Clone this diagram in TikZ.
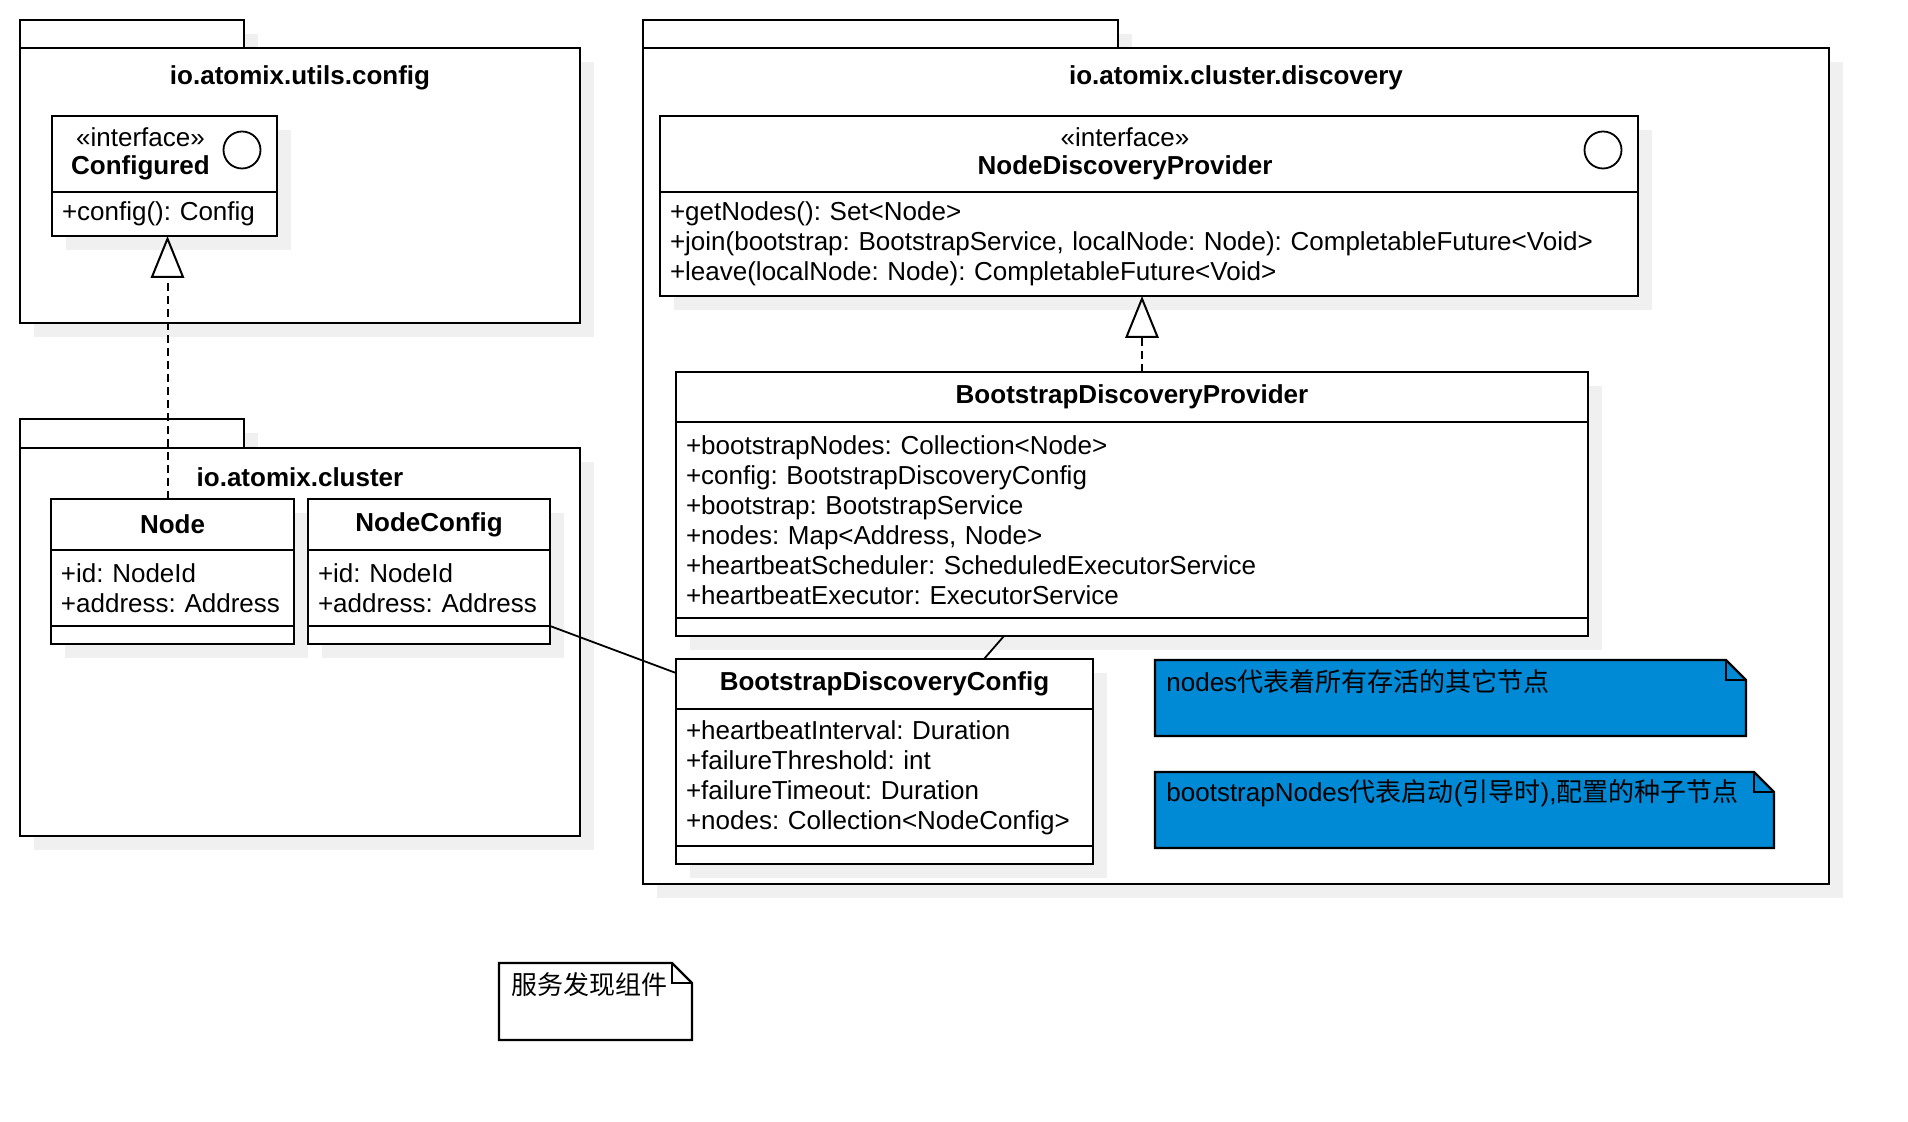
\documentclass[tikz,border=0pt]{standalone}
\usepackage{fontspec}
\setmainfont{Liberation Sans}
\newfontfamily\cjk{Noto Sans CJK SC}
\usepackage{tikz}
\usetikzlibrary{calc}
\usetikzlibrary{positioning}
\usetikzlibrary{shadows}
\usetikzlibrary{arrows.meta}

\definecolor{shadowgray}{RGB}{240,240,240}
\definecolor{noteblue}{RGB}{0,137,212}

\frenchspacing
\hyphenpenalty=10000

\begin{document}
\begin{tikzpicture}[x=0.5pt, y=-0.5pt,
		every node/.style={font=\fontsize{13}{15}\selectfont},
		box/.style={draw, line width=1.1pt, fill=white, inner sep=0pt, outer sep=0pt, anchor=north west,
			drop shadow={shadow xshift=7pt, shadow yshift=-7pt, fill=shadowgray, draw=none, opacity=1}},
		pkgtitle/.style={font=\fontsize{13}{15}\selectfont\bfseries},
		classhead/.style={box, font=\fontsize{13}{15}\selectfont\bfseries},
		members/.style={box, inner xsep=5pt, align=left},
		ifacename/.style={align=center, font=\fontsize{13}{14}\selectfont},
		ifaceicon/.style={draw, circle, line width=0.9pt, minimum size=18.5pt, inner sep=0pt},
		notearea/.style={inner sep=0pt, outer sep=0pt, anchor=north west},
		notebox/.style={draw=black, line width=1.1pt, line join=miter},
		notetext/.style={inner sep=0pt, anchor=west},
		realize/.style={line width=1pt, dash pattern=on 4pt off 2.5pt, -{Triangle[open, length=21pt, width=16.75pt]}},
		assoc/.style={line width=0.9pt}]
		\useasboundingbox (0,0) rectangle (1908,1122);

		% packages
		\node[box, minimum width=112pt, minimum height=14pt] (utilsTab) at (20,20) {};
		\node[box, minimum width=280pt, minimum height=137.5pt] (utilsPkg) at (20,48) {};
		\node[pkgtitle] (utilsName) at ([yshift=-15pt]utilsPkg.north) {io.atomix.utils.config};

		\node[box, minimum width=112pt, minimum height=14.5pt] (clusterTab) at (20,419) {};
		\node[box, minimum width=280pt, minimum height=194pt] (clusterPkg) at (20,448) {};
		\node[pkgtitle] (clusterName) at ([yshift=-14.5pt]clusterPkg.north) {io.atomix.cluster};

		\node[box, minimum width=237.5pt, minimum height=14pt] (discoTab) at (643,20) {};
		\node[box, minimum width=593pt, minimum height=418pt] (discoPkg) at (643,48) {};
		\node[pkgtitle] (discoName) at ([yshift=-15pt]discoPkg.north) {io.atomix.cluster.discovery};

		% Configured
		\node[box, minimum width=112.5pt, minimum height=38pt] (cfgHead) at (52,116) {};
		\node[ifacename] (cfgName) at ([xshift=-12pt]cfgHead.center) {«interface»\\\textbf{Configured}};
		\node[ifaceicon] (cfgIcon) at ([shift={(-17.5pt,-17pt)}]cfgHead.north east) {};
		\node[members, text width=102.5pt, minimum height=22pt] (cfgOps) at (cfgHead.south west) {+config(): Config};

		% Node, NodeConfig
		\node[classhead, minimum width=121.5pt, minimum height=25.5pt] (nodeHead) at (51,499) {Node};
		\node[members, text width=111.5pt, minimum height=38pt] (nodeAttr) at (nodeHead.south west) {+id: NodeId\\+address: Address};
		\node[box, minimum width=121.5pt, minimum height=9pt] (nodeOps) at (nodeAttr.south west) {};

		\node[classhead, minimum width=121pt, minimum height=25.5pt] (ncHead) at (308,499) {NodeConfig};
		\node[members, text width=111pt, minimum height=38pt] (ncAttr) at (ncHead.south west) {+id: NodeId\\+address: Address};
		\node[box, minimum width=121pt, minimum height=9pt] (ncOps) at (ncAttr.south west) {};

		% NodeDiscoveryProvider
		\node[box, minimum width=489pt, minimum height=38pt] (ndpHead) at (660,116) {};
		\node[ifacename] (ndpName) at ([xshift=-12pt]ndpHead.center) {«interface»\\\textbf{NodeDiscoveryProvider}};
		\node[ifaceicon] (ndpIcon) at ([shift={(-17.5pt,-17pt)}]ndpHead.north east) {};
		\node[members, text width=479pt, minimum height=52pt] (ndpOps) at (ndpHead.south west)
			{+getNodes(): Set<Node>\\+join(bootstrap: BootstrapService, localNode: Node): CompletableFuture<Void>\\+leave(localNode: Node): CompletableFuture<Void>};

		% BootstrapDiscoveryProvider
		\node[classhead, minimum width=456pt, minimum height=25pt] (bdpHead) at (676,372) {BootstrapDiscoveryProvider};
		\node[members, text width=446pt, minimum height=98pt] (bdpAttr) at (bdpHead.south west)
			{+bootstrapNodes: Collection<Node>\\+config: BootstrapDiscoveryConfig\\+bootstrap: BootstrapService\\+nodes: Map<Address, Node>\\+heartbeatScheduler: ScheduledExecutorService\\+heartbeatExecutor: ExecutorService};
		\node[box, minimum width=456pt, minimum height=9pt] (bdpOps) at (bdpAttr.south west) {};

		% BootstrapDiscoveryConfig
		\node[classhead, minimum width=208.5pt, minimum height=25pt] (bdcHead) at (676,659) {BootstrapDiscoveryConfig};
		\node[members, text width=198.5pt, minimum height=68.5pt] (bdcAttr) at (bdcHead.south west)
			{+heartbeatInterval: Duration\\+failureThreshold: int\\+failureTimeout: Duration\\+nodes: Collection<NodeConfig>};
		\node[box, minimum width=208.5pt, minimum height=9pt] (bdcOps) at (bdcAttr.south west) {};

		% notes
		\node[notearea, minimum width=295.5pt, minimum height=38pt] (aliveNote) at (1155,660) {};
		\filldraw[notebox, fill=noteblue] (aliveNote.south west) -- (aliveNote.north west) -- ([xshift=-10pt]aliveNote.north east)
			-- ([yshift=-10pt]aliveNote.north east) -- (aliveNote.south east) -- cycle;
		\draw[notebox] ([xshift=-10pt]aliveNote.north east) |- ([yshift=-10pt]aliveNote.north east);
		\node[notetext] (aliveText) at ([shift={(5.5pt,-11pt)}]aliveNote.north west) {nodes{\cjk 代表着所有存活的其它节点}};

		\node[notearea, minimum width=309.5pt, minimum height=38pt] (seedNote) at (1155,772) {};
		\filldraw[notebox, fill=noteblue] (seedNote.south west) -- (seedNote.north west) -- ([xshift=-10pt]seedNote.north east)
			-- ([yshift=-10pt]seedNote.north east) -- (seedNote.south east) -- cycle;
		\draw[notebox] ([xshift=-10pt]seedNote.north east) |- ([yshift=-10pt]seedNote.north east);
		\node[notetext] (seedText) at ([shift={(5.5pt,-10.7pt)}]seedNote.north west) {bootstrapNodes{\cjk 代表启动}({\cjk 引导时}),{\cjk 配置的种子节点}};

		\node[notearea, minimum width=96.5pt, minimum height=38.5pt] (titleNote) at (499,963) {};
		\filldraw[notebox, fill=white] (titleNote.south west) -- (titleNote.north west) -- ([xshift=-10pt]titleNote.north east)
			-- ([yshift=-10pt]titleNote.north east) -- (titleNote.south east) -- cycle;
		\draw[notebox] ([xshift=-10pt]titleNote.north east) |- ([yshift=-10pt]titleNote.north east);
		\node[notetext] (titleText) at ([shift={(5.8pt,-11pt)}]titleNote.north west) {{\cjk 服务发现组件}};

		% connectors
		\draw[realize] ([xshift=-2.5pt]nodeHead.north) -- ([xshift=-2.5pt]nodeHead.north |- cfgOps.south);
		\draw[realize] ([xshift=5pt]bdpHead.north) -- ([xshift=5pt]bdpHead.north |- ndpOps.south);
		\draw[assoc] (ncAttr.south east) -- ([yshift=-7pt]bdcHead.north west);
		\draw[assoc] ([xshift=164pt]bdpOps.south west) -- ([xshift=154pt]bdcHead.north west);
\end{tikzpicture}
\end{document}
